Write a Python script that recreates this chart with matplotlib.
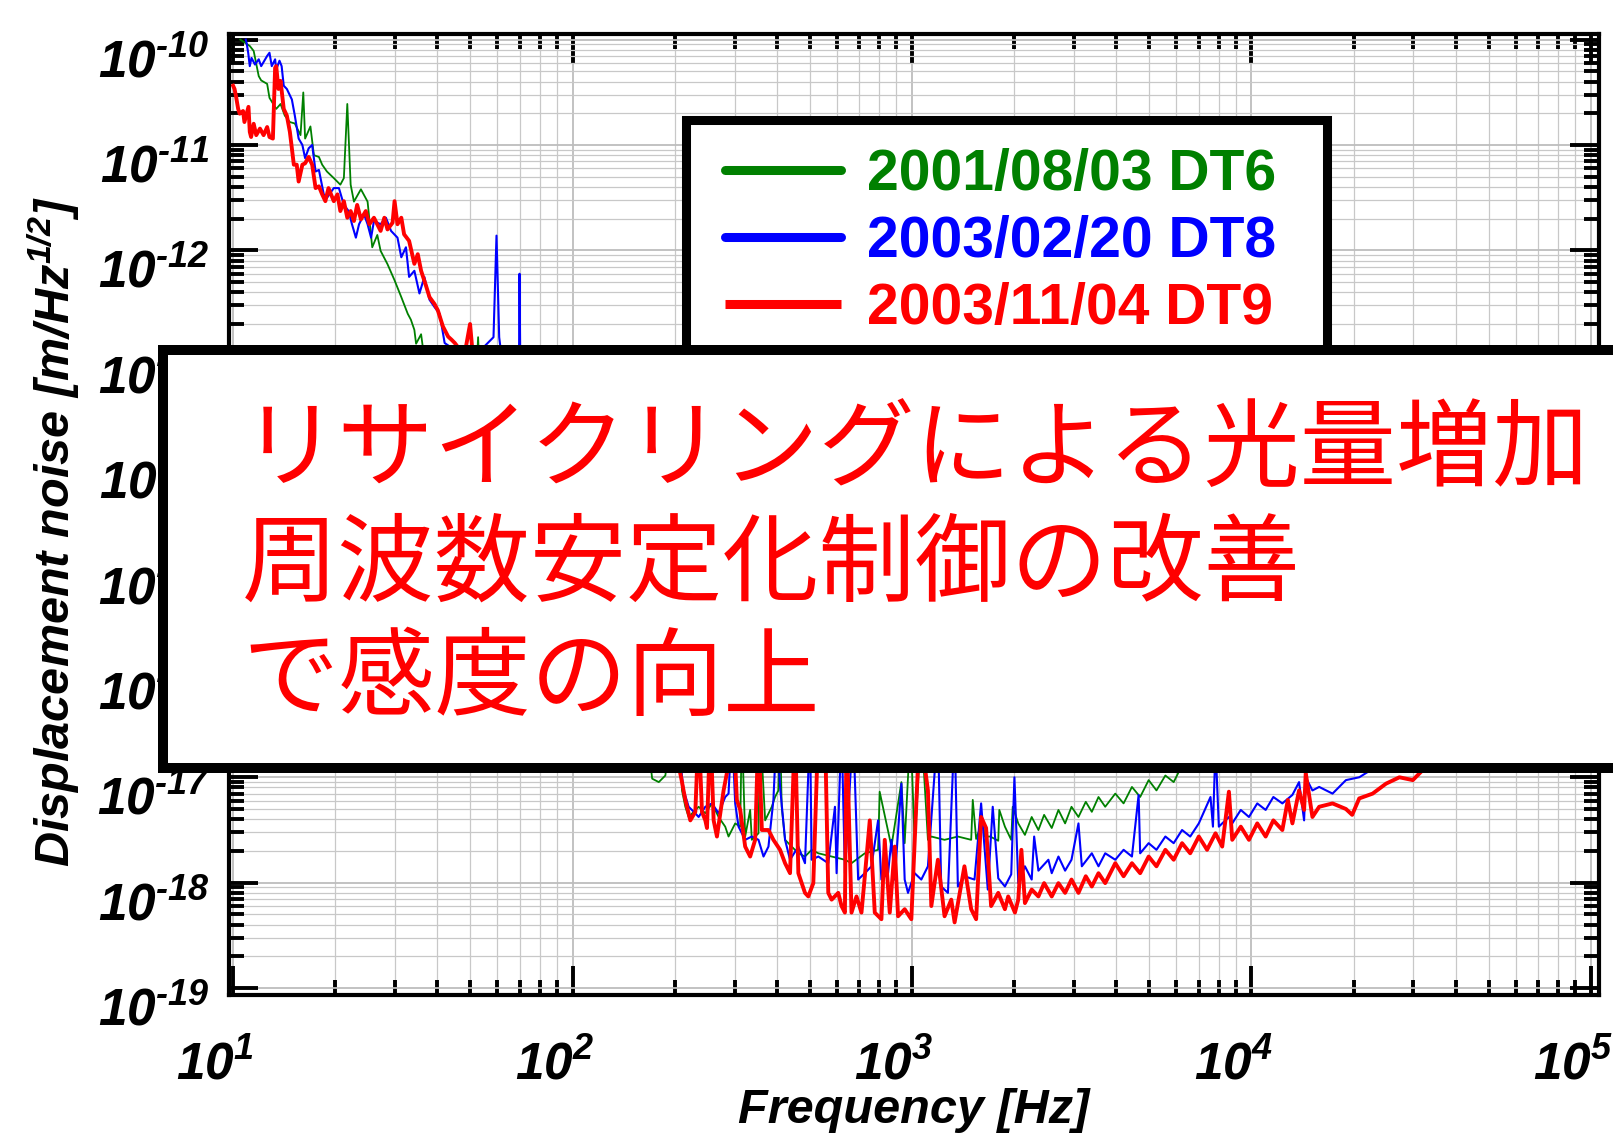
import numpy as np
import matplotlib
matplotlib.use('Agg')
import matplotlib.pyplot as plt
from matplotlib.patches import Rectangle
from matplotlib.ticker import FixedLocator, NullFormatter, FuncFormatter
from matplotlib.transforms import ScaledTranslation

# ----------------------------------
# Spectra (Hz, m/rtHz)
# ----------------------------------

dt6_freq = [10.5, 11.2, 11.5, 11.9, 12.1, 12.6, 12.8, 13.4, 13.8, 14.2, 14.7, 15.2, 15.8, 16.1, 16.3,
            16.9, 17.3, 17.9, 18.3, 18.9, 19.8, 20.7, 21.2, 21.7, 22.2, 22.7, 23.8, 24.9, 25.7, 26.6,
            27.2, 28.5, 29.9, 31.3, 32.7, 33.4, 34.2, 34.6, 35.8, 36.5, 45, 52.2, 52.7, 53.3, 80,
            120, 165, 171.6, 179.5, 187.7, 192.0, 207.8, 210.1, 214.9, 219.8, 235.2, 246.1, 257.5,
            269.3, 281.7, 288.1, 301.4, 311.8, 315.3, 322.5, 333.6, 337.4, 353.0, 357.0, 369.3,
            386.3, 395.0, 404.0, 408.6, 413.2, 422.7, 442.2, 462.6, 483.9, 506.3, 529.7, 579.7,
            634.3, 663.4, 726.1, 794.5, 803, 869.6, 930.6, 951.5, 990, 1018, 1065, 1114, 1140,
            1247, 1365, 1494, 1510, 1545, 1616, 1635, 1700, 1795, 1808, 1878, 1960, 1980, 2056,
            2151, 2252, 2357, 2450, 2580, 2700, 2825, 2950, 3093, 3250, 3386, 3543, 3708, 3970,
            4200, 4445, 4700, 4979, 5250, 5576, 5900, 6245, 6996, 10000, 30000, 100000]
dt6_amp = [1.0e-10, 8.7e-11, 7.8e-11, 4.5e-11, 4.1e-11, 3.8e-11, 2.8e-11, 2.2e-11, 2.45e-11, 1.9e-11,
           1.65e-11, 1.6e-11, 1.24e-11, 3.15e-11, 1.15e-11, 1.5e-11, 8.0e-12, 7.7e-12, 6.5e-12,
           5.6e-12, 4.85e-12, 4.2e-12, 4.85e-12, 2.45e-11, 4.2e-12, 2.9e-12, 3.8e-12, 2.9e-12,
           1.07e-12, 1.4e-12, 9.9e-13, 7.4e-13, 5.2e-13, 3.6e-13, 2.5e-13, 2.2e-13, 1.76e-13,
           1.3e-13, 1.6e-13, 1.0e-13, 6e-14, 8e-14, 1.5e-13, 6e-14, 1e-14, 1e-15, 3e-17, 9.7e-18,
           9.0e-18, 1.04e-17, 2e-17, 2e-17, 7.5e-18, 5.25e-18, 4.2e-18, 5.25e-18, 4.55e-18,
           5.65e-18, 4.2e-18, 3.4e-18, 2.74e-18, 3.65e-18, 3.4e-18, 3e-17, 2.74e-18, 4.9e-18,
           2.55e-18, 2.94e-18, 3e-17, 3.9e-18, 5.25e-18, 6.5e-18, 7.5e-18, 3e-17, 5.25e-18,
           2.55e-18, 2.2e-18, 1.9e-18, 1.77e-18, 2.05e-18, 1.9e-18, 1.77e-18, 1.65e-18, 1.53e-18,
           1.9e-18, 2.05e-18, 7.3e-18, 2.2e-18, 9.0e-18, 2.37e-18, 3e-17, 2.37e-18, 3e-17,
           2.55e-18, 2.74e-18, 2.55e-18, 2.74e-18, 2.55e-18, 6.1e-18, 2.6e-18, 3.9e-18, 2.74e-18,
           2.74e-18, 2.5e-18, 4.9e-18, 3.4e-18, 2.55e-18, 5.25e-18, 3.65e-18, 2.84e-18, 4.2e-18,
           3.16e-18, 4.4e-18, 3.3e-18, 4.9e-18, 3.65e-18, 5.25e-18, 4.2e-18, 5.85e-18, 4.7e-18,
           6.5e-18, 5.25e-18, 7.0e-18, 5.65e-18, 8.1e-18, 6.5e-18, 9.4e-18, 7.5e-18, 1.04e-17,
           9e-18, 1.3e-17, 1.5e-17, 2.2e-17, 5e-17, 1.5e-16]

dt8_freq = [10.9, 10.96, 11.08, 11.2, 11.33, 11.6, 11.9, 12.1, 12.6, 12.8, 13.0, 13.3, 13.4, 13.7,
            13.9, 14.1, 14.4, 14.9, 15.2, 15.6, 16.0, 16.3, 16.7, 17.1, 17.5, 17.9, 18.5, 18.9,
            19.8, 20.5, 21.2, 21.9, 22.4, 23.0, 23.5, 24.3, 24.9, 25.5, 26.0, 27.2, 28.2, 29.2,
            30.5, 31.3, 32.3, 33.0, 34.2, 35.4, 36.6, 37.9, 39.2, 40.6, 41.5, 42.0, 50, 58.5, 59.7,
            60.8, 62, 69.5, 69.8, 70.2, 100, 150, 205, 212.5, 219.8, 230.0, 235.2, 246.1, 257.5,
            269.3, 281.7, 288.1, 294.7, 301.4, 308.3, 322.5, 337.4, 353.0, 365.2, 377.7, 390.6,
            399.5, 408.6, 422.7, 437.2, 462.6, 483.9, 500.6, 506.3, 529.7, 566.7, 592.9, 599.6,
            620.1, 634.3, 670.9, 694.0, 726.1, 759.5, 794.5, 812.6, 850.2, 869.6, 889.5, 930.6,
            951.5, 973.2, 1018, 1065, 1114, 1192, 1219, 1276, 1335, 1365, 1427, 1528, 1598, 1672,
            1729, 1795, 1878, 1960, 2003, 2056, 2151, 2252, 2290, 2357, 2522, 2580, 2700, 2825,
            2950, 3093, 3164, 3386, 3543, 3708, 3970, 4200, 4445, 4651, 4700, 4979, 5250, 5576,
            5900, 6245, 6600, 6996, 7574, 7700, 7835, 8015, 8581, 8777, 9300, 9831, 10400, 11010,
            11600, 12330, 13200, 13810, 14290, 14450, 15120, 15830, 17330, 18980, 20770, 22750,
            25000, 40000, 100000]
dt8_amp = [1.0e-10, 9.3e-11, 7.5e-11, 5.6e-11, 6.7e-11, 5.8e-11, 6.5e-11, 5.6e-11, 7.0e-11, 7.5e-11,
           5.6e-11, 6.5e-11, 5.2e-11, 6.3e-11, 5.6e-11, 3.65e-11, 3.4e-11, 2.7e-11, 1.9e-11,
           1.15e-11, 1.0e-11, 7.5e-12, 9.3e-12, 1.0e-11, 5.6e-12, 5.8e-12, 3.4e-12, 3.15e-12,
           3.9e-12, 3.9e-12, 2.7e-12, 2.36e-12, 1.77e-12, 1.32e-12, 1.77e-12, 2.2e-12, 1.77e-12,
           1.32e-12, 1.9e-12, 1.77e-12, 2.04e-12, 1.53e-12, 1.32e-12, 8.6e-13, 1.07e-12, 5.6e-13,
           6.4e-13, 3.9e-13, 5.6e-13, 3.4e-13, 2.9e-13, 2.5e-13, 1.64e-13, 1.32e-13, 9e-14,
           1.5e-13, 1.38e-12, 1.5e-13, 9e-14, 6e-14, 6.0e-13, 6e-14, 6e-15, 4e-16, 2e-17, 7.5e-18,
           5.25e-18, 4.55e-18, 4.2e-18, 5.25e-18, 5.65e-18, 4.55e-18, 6.5e-18, 7.0e-18, 3e-17,
           5.65e-18, 3.4e-18, 2.55e-18, 2.74e-18, 2.55e-18, 1.77e-18, 2.2e-18, 6.1e-18, 3e-17,
           8.1e-18, 2.55e-18, 1.65e-18, 2.2e-18, 1.53e-18, 3e-17, 1.65e-18, 1.77e-18, 1.53e-18,
           5.25e-18, 1.23e-18, 3e-17, 1.23e-18, 3e-17, 1.07e-18, 1.23e-18, 1.43e-18, 3.9e-18,
           1.07e-18, 1.23e-18, 2.55e-18, 1.07e-18, 8.7e-18, 1.07e-18, 8.0e-19, 1.23e-18, 1.07e-18,
           1.43e-18, 3e-17, 9.2e-19, 8.0e-19, 3e-17, 9.2e-19, 1.15e-18, 1.07e-18, 5.65e-18,
           8.6e-19, 5.25e-18, 1.1e-18, 9.2e-19, 1.2e-18, 1.0e-17, 9.9e-19, 1.43e-18, 1.07e-18,
           2.74e-18, 1.3e-18, 1.65e-18, 1.23e-18, 1.77e-18, 1.3e-18, 1.65e-18, 3.65e-18, 1.43e-18,
           1.9e-18, 1.43e-18, 1.9e-18, 1.65e-18, 2.05e-18, 1.77e-18, 6.8e-18, 1.9e-18, 2.37e-18,
           2.05e-18, 2.74e-18, 2.37e-18, 3.16e-18, 2.74e-18, 3.65e-18, 6.5e-18, 3.4e-18, 2e-17,
           3.4e-18, 4.2e-18, 3.65e-18, 4.9e-18, 4.2e-18, 5.65e-18, 4.9e-18, 6.5e-18, 5.65e-18,
           6.8e-18, 9.0e-18, 3.9e-18, 1.0e-17, 7.5e-18, 8.1e-18, 7.0e-18, 9.4e-18, 1.0e-17,
           1.2e-17, 1.4e-17, 2.5e-17, 6e-17]

dt9_freq = [10.0, 10.1, 10.2, 10.35, 10.46, 10.7, 10.8, 11.1, 11.2, 11.3, 11.5, 11.7, 12.0, 12.3,
            12.6, 12.8, 13.1, 13.3, 13.4, 13.6, 13.8, 14.1, 14.4, 14.7, 14.9, 15.1, 15.4, 15.6,
            16.0, 16.3, 16.7, 17.1, 17.5, 17.9, 18.3, 18.7, 19.1, 19.8, 20.3, 20.7, 21.2, 21.7,
            22.2, 22.7, 23.2, 23.8, 24.6, 25.2, 26.0, 27.2, 27.9, 28.5, 29.5, 29.9, 30.5, 31.3,
            31.9, 33.0, 34.2, 35.0, 35.8, 37.1, 37.9, 39.2, 40.1, 41.5, 43.0, 44.0, 45.0, 48, 49.9,
            51, 60, 100, 150, 200, 210.1, 214.9, 222.3, 230.0, 235.2, 240.6, 246.1, 248.9, 254.6,
            260.4, 266.3, 272.4, 278.6, 284.9, 298.0, 304.8, 311.8, 322.5, 333.6, 345.1, 353.0,
            361.1, 377.7, 390.6, 408.6, 422.7, 437.2, 452.3, 462.6, 483.9, 495.0, 512.0, 529.7,
            554.1, 566.7, 579.7, 606.3, 620.1, 634.3, 641.5, 663.4, 686.2, 709.8, 726.1, 750.9,
            776.8, 812.6, 831.2, 859.9, 889.5, 909.8, 951.5, 995.4, 1053, 1114, 1140, 1192, 1247,
            1305, 1335, 1427, 1494, 1545, 1598, 1653, 1710, 1795, 1878, 1920, 2010, 2056, 2100,
            2151, 2252, 2357, 2450, 2580, 2700, 2825, 2950, 3093, 3250, 3386, 3543, 3708, 3970,
            4200, 4445, 4700, 4979, 5250, 5576, 5900, 6245, 6600, 6996, 7400, 7835, 8200, 8581,
            8777, 9300, 9831, 10400, 11010, 11600, 12330, 12800, 13200, 13810, 14290, 14450,
            15120, 15830, 17330, 18980, 19800, 20770, 22750, 24910, 27280, 29870, 33000, 50000,
            100000]
dt9_amp = [3.65e-11, 3.4e-11, 2.9e-11, 2.2e-11, 1.98e-11, 2.1e-11, 1.65e-11, 2.3e-11, 1.33e-11,
           1.19e-11, 1.59e-11, 1.24e-11, 1.43e-11, 1.24e-11, 1.48e-11, 1.19e-11, 1.15e-11, 5.4e-11,
           5.6e-11, 3.4e-11, 4.06e-11, 2.2e-11, 1.9e-11, 1.33e-11, 9.3e-12, 6.5e-12, 6.5e-12,
           4.5e-12, 6.5e-12, 6.7e-12, 7.7e-12, 6.5e-12, 3.9e-12, 4.05e-12, 3.4e-12, 2.93e-12,
           3.9e-12, 2.93e-12, 3.4e-12, 2.36e-12, 2.93e-12, 2.04e-12, 2.36e-12, 1.9e-12, 2.7e-12,
           1.97e-12, 2.36e-12, 1.77e-12, 2.04e-12, 1.53e-12, 2.04e-12, 1.58e-12, 1.83e-12,
           2.93e-12, 1.77e-12, 2.04e-12, 1.42e-12, 1.23e-12, 7.45e-13, 9.2e-13, 6.4e-13, 4.5e-13,
           3.6e-13, 3.1e-13, 2.7e-13, 1.9e-13, 1.52e-13, 1.42e-13, 1.32e-13, 1.0e-13, 2.0e-13,
           9e-14, 5e-14, 5e-15, 3e-16, 2e-17, 9.0e-18, 6.1e-18, 3.9e-18, 4.7e-18, 3e-17, 4.7e-18,
           3.9e-18, 3.3e-18, 3e-17, 3.9e-18, 2.74e-18, 4.55e-18, 7.5e-18, 1.1e-17, 3e-17, 6.1e-18,
           4.9e-18, 2.2e-18, 1.77e-18, 2.55e-18, 3e-17, 3.16e-18, 3.16e-18, 2.55e-18, 2.05e-18,
           1.53e-18, 1.23e-18, 3e-17, 1.23e-18, 8.0e-19, 7.4e-19, 9.9e-19, 3e-17, 3e-17, 8.0e-19,
           6.9e-19, 8.0e-19, 6.0e-19, 5.2e-19, 3e-17, 5.2e-19, 7.4e-19, 5.2e-19, 1.15e-18, 3.9e-18,
           5.2e-19, 4.5e-19, 2.55e-18, 5.2e-19, 2.2e-18, 4.8e-19, 5.6e-19, 4.5e-19, 3e-17, 7.5e-18,
           6.0e-19, 1.65e-18, 4.8e-19, 6.9e-19, 4.2e-19, 1.43e-18, 5.6e-19, 4.5e-19, 4.2e-18,
           3.3e-18, 6.0e-19, 8.0e-19, 5.6e-19, 7.4e-19, 5.2e-19, 6.9e-19, 2.05e-18, 6.4e-19,
           8.6e-19, 7.4e-19, 9.9e-19, 7.4e-19, 9.9e-19, 8.0e-19, 1.07e-18, 8.0e-19, 1.15e-18,
           9.2e-19, 1.23e-18, 9.9e-19, 1.53e-18, 1.15e-18, 1.53e-18, 1.23e-18, 1.77e-18, 1.43e-18,
           2.05e-18, 1.65e-18, 2.37e-18, 1.9e-18, 2.74e-18, 2.05e-18, 2.94e-18, 2.2e-18, 7.3e-18,
           2.55e-18, 3.4e-18, 2.55e-18, 3.65e-18, 2.74e-18, 3.9e-18, 3.16e-18, 6.1e-18, 3.65e-18,
           7.5e-18, 4.9e-18, 1.1e-17, 4.2e-18, 5.25e-18, 5.65e-18, 5.0e-18, 4.4e-18, 6.3e-18,
           7.0e-18, 8.7e-18, 1.0e-17, 9.4e-18, 1.3e-17, 2e-17, 4e-17]

labels = ['2001/08/03 DT6', '2003/02/20 DT8', '2003/11/04 DT9']
colors = ['#008000', '#0000ff', '#ff0000']

note_lines = ['リサイクリングによる光量増加', '周波数安定化制御の改善', 'で感度の向上']

# decades shown on each axis
x_decades = np.arange(1, 6)
y_decades = np.arange(-19, -9)

# ----------------------------------
# Style
# ----------------------------------

latin = ['Liberation Sans', 'DejaVu Sans']
plt.rcParams['font.family'] = latin
plt.rcParams['font.weight'] = 'bold'
plt.rcParams['font.style'] = 'italic'
plt.rcParams['mathtext.default'] = 'regular'
plt.rcParams['mathtext.fontset'] = 'custom'
plt.rcParams['mathtext.rm'] = 'Liberation Sans:italic:bold'
plt.rcParams['mathtext.it'] = 'Liberation Sans:italic:bold'
plt.rcParams['mathtext.bf'] = 'Liberation Sans:italic:bold'


def decade_label(v, pos):
    # short hyphen in the exponent, like the original plot
    e = int(round(np.log10(v)))
    s = str(e).replace('-', r'\text{-}')
    return r'$\mathdefault{10^{%s}}$' % s


def minor_ticks(decades):
    return [m * 10.0 ** d for d in decades[:-1] for m in range(2, 10)]


fig = plt.figure(figsize=(16.13, 11.41), dpi=100)
ax = fig.add_axes([0.1420, 0.1280, 0.8493, 0.8422])

ax.plot(dt6_freq, dt6_amp, color=colors[0], lw=1.3, label=labels[0])
ax.plot(dt8_freq, dt8_amp, color=colors[1], lw=1.5, label=labels[1])
ax.plot(dt9_freq, dt9_amp, color=colors[2], lw=2.8, label=labels[2])

ax.set_xscale('log')
ax.set_yscale('log')
ax.set_xlim(9.73, 1.056e5)
ax.set_ylim(8.6e-20, 1.13e-10)

for axis, decades in ((ax.xaxis, x_decades), (ax.yaxis, y_decades)):
    axis.set_major_locator(FixedLocator(10.0 ** decades))
    axis.set_minor_locator(FixedLocator(minor_ticks(decades)))
    axis.set_major_formatter(FuncFormatter(decade_label))
    axis.set_minor_formatter(NullFormatter())

ax.grid(True, which='major', color='#bdbdbd', lw=1.3)
ax.grid(True, which='minor', color='#c8c8c8', lw=0.9)
ax.set_axisbelow(True)

ax.tick_params(which='both', direction='in', top=True, right=True, width=2.8, labelsize=37)
ax.tick_params(which='major', length=21)
ax.tick_params(which='minor', length=11)
ax.tick_params(axis='y', pad=14)
ax.tick_params(axis='x', pad=33)
for s in ax.spines.values():
    s.set_linewidth(3)

ax.set_xlabel('Frequency [Hz]', fontsize=35, fontweight='bold', va='center')
ax.xaxis.set_label_coords(0.5, -0.1207)
ax.set_ylabel('Displacement noise [m/Hz$^{1/2}$]', fontsize=35, fontweight='bold', va='center')
ax.yaxis.set_label_coords(-0.128, 0.482)

# nudge tick labels like the original (x labels a bit left, y labels a bit down)
dx = ScaledTranslation(-18 / 100, 0, fig.dpi_scale_trans)
for lab in ax.get_xticklabels():
    lab.set_transform(lab.get_transform() + dx)
dy = ScaledTranslation(0, -18 / 100, fig.dpi_scale_trans)
for lab in ax.get_yticklabels():
    lab.set_transform(lab.get_transform() + dy)

# ----------------------------------
# Legend (white box with thick frame)
# ----------------------------------

ax.add_patch(Rectangle((0.4256, 0.6494), 0.3974, 0.2450, transform=fig.transFigure,
                       facecolor='white', edgecolor='black', lw=6.5, joinstyle='miter',
                       zorder=4, clip_on=False))
leg = ax.legend(loc='upper left', bbox_to_anchor=(725 / 1613, 1 - 148 / 1141),
                bbox_transform=fig.transFigure, frameon=False, borderpad=0, borderaxespad=0,
                handlelength=2.03, handletextpad=0.46, labelspacing=0.23,
                labelcolor='linecolor',
                prop={'family': latin, 'weight': 'bold', 'style': 'normal', 'size': 41})
for h, cap in zip(leg.legend_handles, ['round', 'round', 'butt']):
    h.set_linewidth(6.5)
    h.set_solid_capstyle(cap)

# ----------------------------------
# Annotation box on top of everything
# ----------------------------------

fig.add_artist(Rectangle((163 / 1613, 1 - 768 / 1141), 1.0, (768 - 350) / 1141,
                         transform=fig.transFigure, facecolor='white', edgecolor='black',
                         lw=7.2, joinstyle='miter', zorder=10))
for line, ypix in zip(note_lines, [451, 566, 680]):
    fig.text(242 / 1613, 1 - ypix / 1141, line, fontsize=69.3, color='#ff0000',
             family=['Noto Sans CJK JP', 'DejaVu Sans'], weight='normal', style='normal',
             va='center', ha='left', zorder=11)

fig.savefig('out.png', dpi=100)
